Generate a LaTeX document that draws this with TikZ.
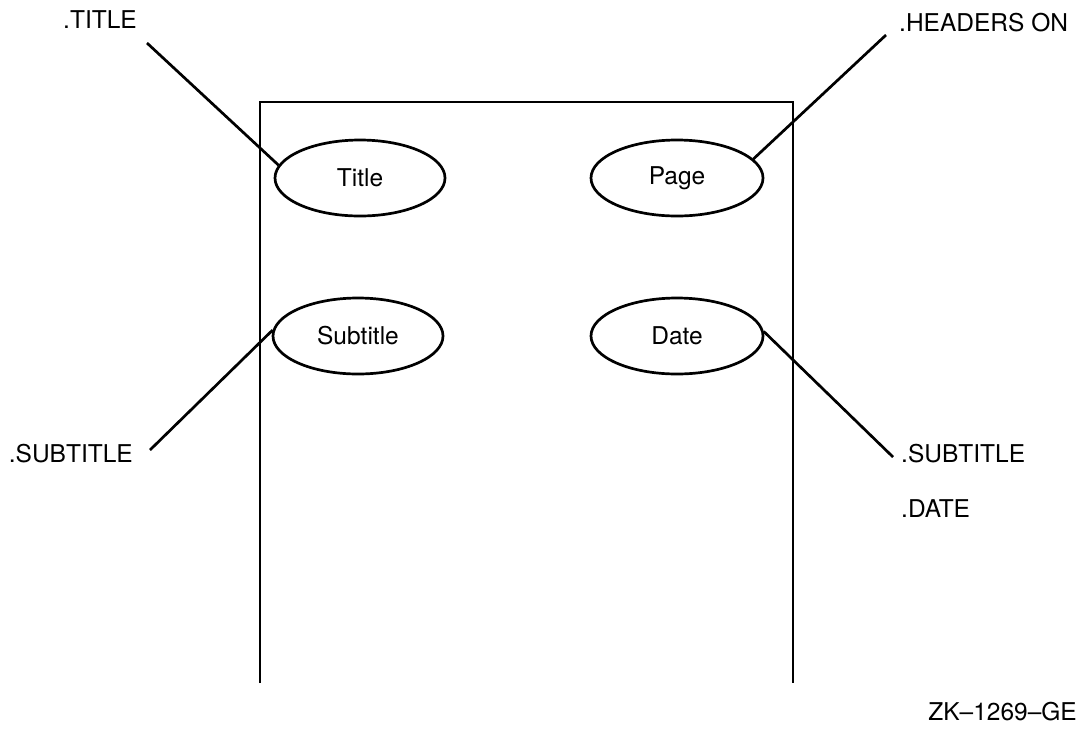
\documentclass[tikz,border=0pt]{standalone}
\usepackage{fontspec}
\setmainfont{TeX Gyre Heros}
\usetikzlibrary{shapes.geometric}
\begin{document}
\begin{tikzpicture}[x=1pt,y=-1pt,
  field/.style={draw,ellipse,line width=2.7pt,minimum width=170pt,minimum height=76pt,inner sep=0pt,font=\fontsize{24.5}{28}\selectfont},
  lbl/.style={inner sep=0pt,font=\fontsize{24.5}{28}\selectfont},
  lead/.style={line width=2.7pt}]
\useasboundingbox (0,0) rectangle (1081,729);
% page outline
\draw[line width=2.7pt] (260,683) -- (260,102) -- (793,102) -- (793,683);
% fields
\node[field] (title) at (360,178) {Title};
\node[field,minimum width=172pt] (page) at (677,178) {Page};
\node[field] (subtitle) at (358,336) {Subtitle};
\node[field,minimum width=172pt] (date) at (677,336) {Date};
% labels
\node[lbl] (ltitle) at (100,20) {.TITLE};
\node[lbl,anchor=west] (lheaders) at (899,23) {.HEADERS ON};
\node[lbl,anchor=east] (lsub) at (133,454) {.SUBTITLE};
\node[lbl,anchor=west] (lsub2) at (901,454) {.SUBTITLE};
\node[lbl,anchor=west] (ldate) at (901,509) {.DATE};
\node[lbl,anchor=east] (zk) at (1077,712) {ZK–1269–GE};
% leader ends
\coordinate (c1) at (147,43);
\coordinate (c2) at (886,35);
\coordinate (c3) at (150,450);
\coordinate (c4) at (893,457);
\draw[lead] (c1) -- (title.171);
\draw[lead] (c2) -- (page.14);
\draw[lead] (c3) -- (subtitle.176);
\draw[lead] (c4) -- (date.3);
\end{tikzpicture}
\end{document}
